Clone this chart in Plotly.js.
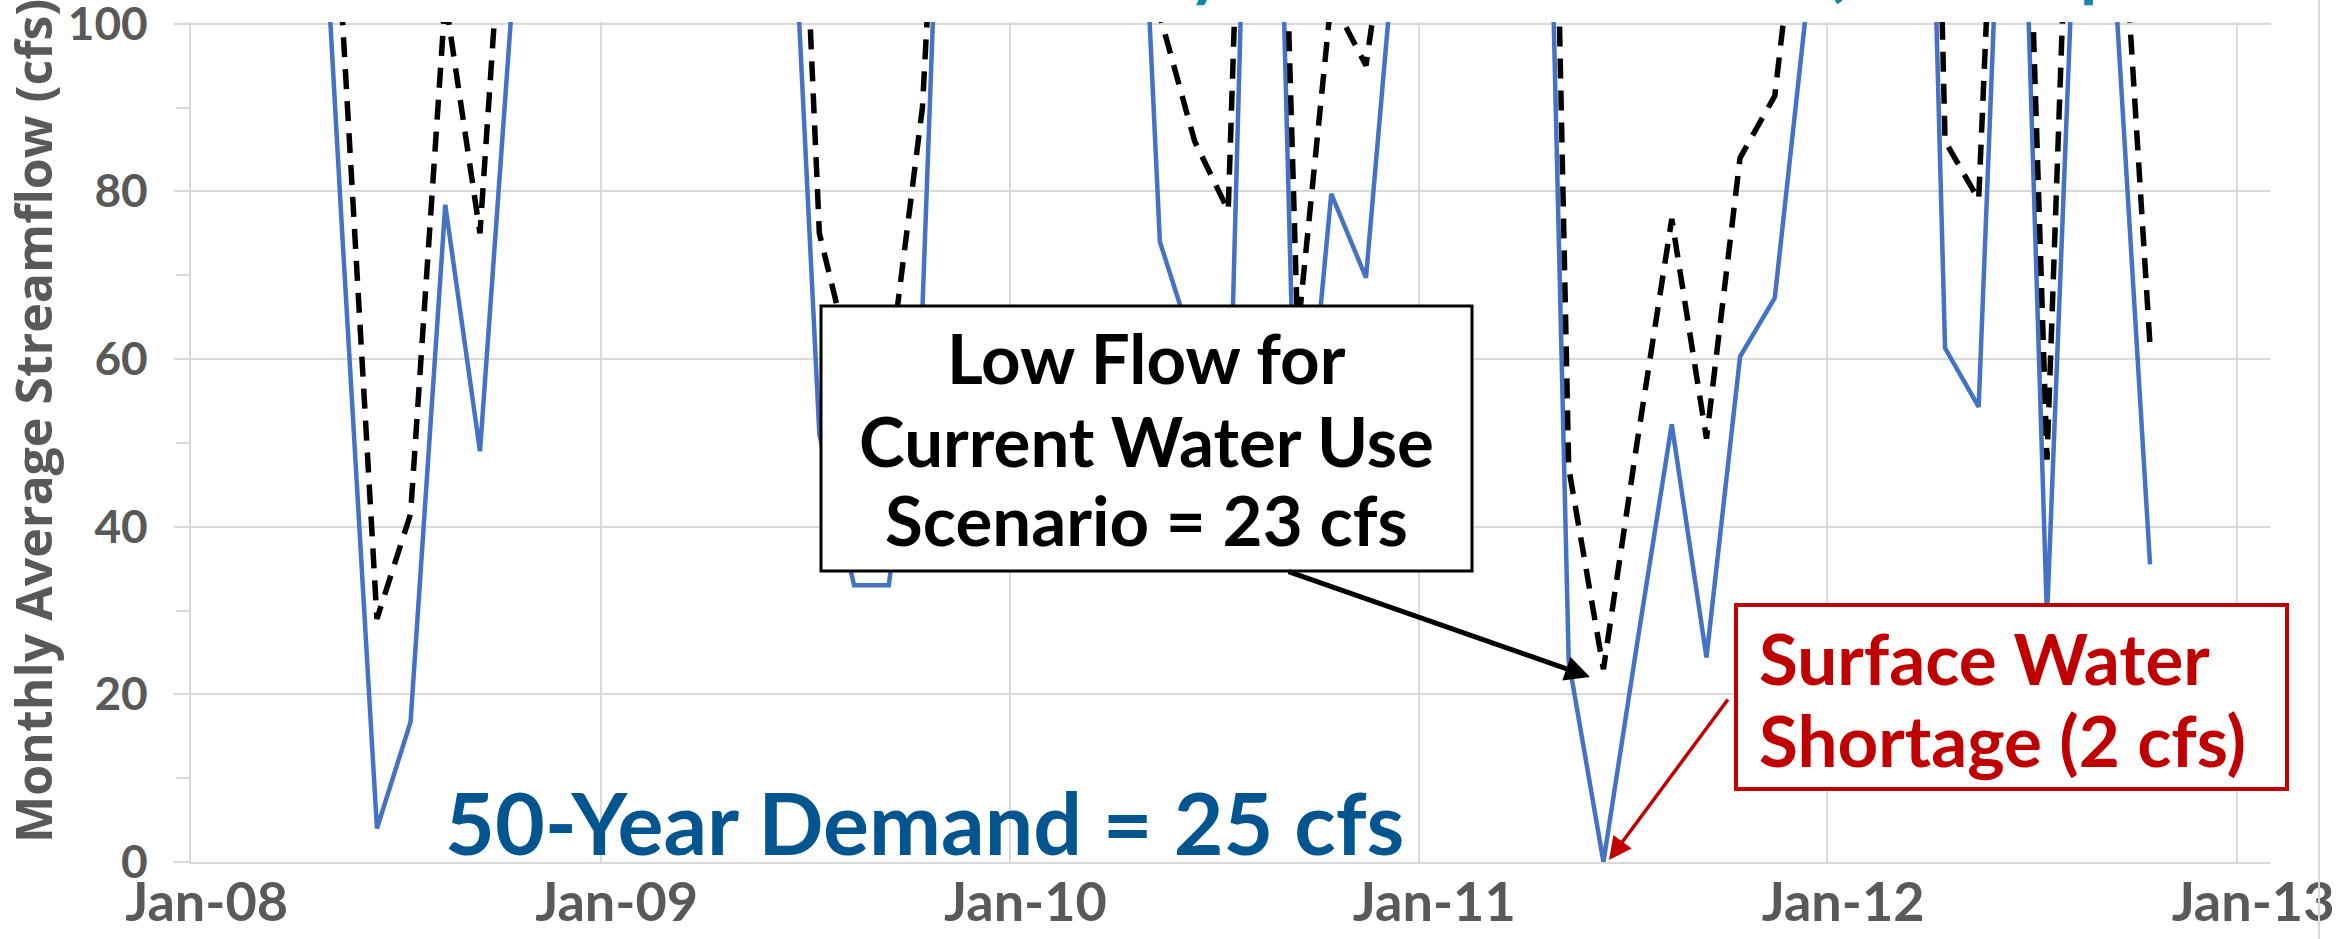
<!DOCTYPE html>
<html>
<head>
<meta charset="utf-8">
<script src="https://cdn.plot.ly/plotly-3.0.1.min.js"></script>
<style>
  html, body { margin: 0; padding: 0; background: #ffffff; }
  #chart { width: 2338px; height: 939px; }
</style>
</head>
<body>
<div id="chart"></div>
<script>
// ---- data (monthly average streamflow, cfs) ----
const months = [
  '2008-01-15','2008-02-15','2008-03-15','2008-04-15','2008-05-15','2008-06-15',
  '2008-07-15','2008-08-15','2008-09-15','2008-10-15','2008-11-15','2008-12-15',
  '2009-01-15','2009-02-15','2009-03-15','2009-04-15','2009-05-15','2009-06-15',
  '2009-07-15','2009-08-15','2009-09-15','2009-10-15','2009-11-15','2009-12-15',
  '2010-01-15','2010-02-15','2010-03-15','2010-04-15','2010-05-15','2010-06-15',
  '2010-07-15','2010-08-15','2010-09-15','2010-10-15','2010-11-15','2010-12-15',
  '2011-01-15','2011-02-15','2011-03-15','2011-04-15','2011-05-15','2011-06-15',
  '2011-07-15','2011-08-15','2011-09-15','2011-10-15','2011-11-15','2011-12-15',
  '2012-01-15','2012-02-15','2012-03-15','2012-04-15','2012-05-15','2012-06-15',
  '2012-07-15','2012-08-15','2012-09-15','2012-10-15'
];
// 50-year demand scenario (solid blue)
const demand50Flow = [
  250, 310, 220, 146, 75, 4,
  16.7, 78.4, 49, 105, 170, 240,
  280, 350, 300, 220, 170, 133,
  51, 33, 33, 66, 180, 260,
  300, 260, 230, 160, 74, 61,
  45, 200, 37, 79.7, 69.7, 116,
  280, 330, 260, 195, 24, 0,
  26, 52.2, 24.4, 60.3, 67.3, 104,
  300, 280, 218, 61.3, 54.3, 160,
  29, 135, 102, 35.5
];
// current water use scenario (black dashed)
const currentFlow = [
  262, 325, 236, 150, 101, 29,
  41.5, 103, 75, 132, 190, 258,
  300, 378, 322, 241, 186, 166,
  75, 58, 58, 90, 188, 275,
  320, 282, 250, 190, 101, 86,
  77.7, 205, 63, 103, 95, 123,
  300, 352, 272, 240, 47, 23,
  50, 76.7, 50.5, 84, 91.4, 126,
  318, 292, 260, 86, 79, 175,
  48, 166, 126, 61.6
];
const yearGridDates = ['2008-01-01','2009-01-01','2010-01-01','2011-01-01','2012-01-01','2013-01-01'];
const yearLabelDates = ['2008-01-15','2009-01-15','2010-01-15','2011-01-15','2012-01-15','2013-01-15'];
const yearLabels = ['Jan-08','Jan-09','Jan-10','Jan-11','Jan-12','Jan-13'];
const yTickVals = [0, 20, 40, 60, 80, 100];
const yMax = 100;

// ---- geometry helpers (pixel -> paper) ----
const L = 191, R = 67, T = 22, B = 77, W = 2338, H = 939;
const PW = W - L - R, PH = H - T - B;
const Y0 = H - B;               // pixel row of value 0
const px = x => (x - L) / PW;
const py = y => (Y0 - y) / PH;

const gray = '#595959';
const grid = '#d9d9d9';
const xTickFont = {family: 'Lato', size: 54, color: gray, weight: 700};
const yTickFont = {family: 'Lato', size: 46, color: gray, weight: 700};
const xRange = ['2008-01-01', '2013-01-31'];

const traces = [
  {
    type: 'scatter', mode: 'lines', name: '50-Year Demand',
    x: months, y: demand50Flow,
    line: {color: '#4472c4', width: 4.5},
    hoverinfo: 'x+y'
  },
  {
    type: 'scatter', mode: 'lines', name: 'Current Water Use',
    x: months, y: currentFlow,
    line: {color: '#000000', width: 5.5, dash: '20px,12px'},
    hoverinfo: 'x+y'
  },
  // carrier for the label axis (no marks)
  {type: 'scatter', mode: 'lines', x: [], y: [], xaxis: 'x2', yaxis: 'y',
   showlegend: false, hoverinfo: 'skip'}
];

const boxFont = {family: 'Lato', size: 69, color: '#000000', weight: 700};
const redFont = {family: 'Lato', size: 71, color: '#c00000', weight: 700};
const titleFrag = {family: 'Lato', size: 70, color: '#1488a8', weight: 700};

const layout = {
  width: W, height: H,
  margin: {l: L, r: R, t: T, b: B},
  paper_bgcolor: '#ffffff', plot_bgcolor: '#ffffff',
  showlegend: false,
  xaxis: {
    type: 'date', range: xRange,
    tickmode: 'array', tickvals: yearGridDates,
    showticklabels: false,
    showgrid: true, gridcolor: grid, gridwidth: 2,
    zeroline: false, showline: true, linecolor: grid, linewidth: 2,
    ticks: ''
  },
  xaxis2: {
    type: 'date', range: xRange, overlaying: 'x', anchor: 'y', side: 'bottom',
    tickmode: 'array', tickvals: yearLabelDates, ticktext: yearLabels,
    showgrid: false, zeroline: false, showline: false, ticks: '',
    tickfont: xTickFont, ticklabelstandoff: 4, ticklabeloverflow: 'allow'
  },
  yaxis: {
    range: [0, 100.2],
    tickmode: 'array', tickvals: yTickVals,
    showgrid: true, gridcolor: grid, gridwidth: 2,
    zeroline: false, showline: true, linecolor: grid, linewidth: 2,
    ticks: 'outside', ticklen: 15, tickwidth: 2, tickcolor: grid,
    minor: {dtick: 10, tick0: 0, ticks: 'outside', ticklen: 13, tickwidth: 2, tickcolor: grid, showgrid: false},
    tickfont: yTickFont, ticklabelstandoff: 17, ticklabeloverflow: 'allow'
  },
  shapes: [
    // top (100 cfs) gridline incl. its outside tick
    {type: 'line', xref: 'paper', yref: 'y', layer: 'below',
     x0: px(176), x1: 1, y0: yMax, y1: yMax,
     line: {color: grid, width: 2}},
    {type: 'rect', xref: 'paper', yref: 'paper', layer: 'above',
     x0: px(821), x1: px(1472), y0: py(571), y1: py(306),
     fillcolor: '#ffffff', line: {color: '#000000', width: 3}},
    {type: 'rect', xref: 'paper', yref: 'paper', layer: 'above',
     x0: px(1736), x1: px(2287), y0: py(789), y1: py(605),
     fillcolor: '#ffffff', line: {color: '#c00000', width: 4}},
    {type: 'line', xref: 'paper', yref: 'paper', layer: 'above',
     x0: px(2319), x1: px(2319), y0: py(945), y1: py(-5),
     line: {color: grid, width: 2}}
  ],
  annotations: [
    {xref: 'paper', yref: 'paper', x: px(33), y: py(421), showarrow: false,
     text: 'Monthly Average Streamflow (cfs)', textangle: -90,
     xanchor: 'center', yanchor: 'middle',
     font: {family: 'Open Sans', size: 50, color: gray, weight: 700}},
    {xref: 'paper', yref: 'paper', x: px(1146), y: py(357), showarrow: false,
     text: 'Low Flow for', xanchor: 'center', yanchor: 'middle', font: boxFont},
    {xref: 'paper', yref: 'paper', x: px(1146), y: py(440), showarrow: false,
     text: 'Current Water Use', xanchor: 'center', yanchor: 'middle', font: boxFont},
    {xref: 'paper', yref: 'paper', x: px(1146), y: py(519), showarrow: false,
     text: 'Scenario = 23 cfs', xanchor: 'center', yanchor: 'middle', font: boxFont},
    {xref: 'paper', yref: 'paper', x: px(1757), y: py(657), showarrow: false,
     text: 'Surface Water', xanchor: 'left', yanchor: 'middle', font: redFont},
    {xref: 'paper', yref: 'paper', x: px(1757), y: py(739), showarrow: false,
     text: 'Shortage (2 cfs)', xanchor: 'left', yanchor: 'middle', font: redFont},
    {xref: 'paper', yref: 'paper', x: px(924), y: py(821), showarrow: false,
     text: '50-Year Demand = 25 cfs', xanchor: 'center', yanchor: 'middle',
     font: {family: 'Lato', size: 86, color: '#02558f', weight: 700}},
    // black arrow to current-use low flow
    {xref: 'paper', yref: 'paper', x: px(1590), y: py(677), text: '',
     showarrow: true, ax: 1287 - 1590, ay: 571 - 677,
     arrowcolor: '#000000', arrowwidth: 5, arrowhead: 2, arrowsize: 1, standoff: 0},
    // red arrow to shortage point
    {xref: 'paper', yref: 'paper', x: px(1609), y: py(860), text: '',
     showarrow: true, ax: 1729 - 1609, ay: 698 - 860,
     arrowcolor: '#c00000', arrowwidth: 3.5, arrowhead: 2, arrowsize: 1.3, standoff: 0},
    // fragments of the (cropped) chart title at the top edge
    {xref: 'paper', yref: 'paper', x: px(1206), y: py(10), showarrow: false,
     text: 'y', xanchor: 'center', yanchor: 'bottom', font: titleFrag},
    {xref: 'paper', yref: 'paper', x: px(1834), y: py(10), showarrow: false,
     text: '(', xanchor: 'center', yanchor: 'bottom', font: titleFrag},
    {xref: 'paper', yref: 'paper', x: px(2100), y: py(10), showarrow: false,
     text: 'p', xanchor: 'center', yanchor: 'bottom', font: titleFrag}
  ]
};

Plotly.newPlot('chart', traces, layout, {staticPlot: true, displayModeBar: false});
</script>
</body>
</html>
